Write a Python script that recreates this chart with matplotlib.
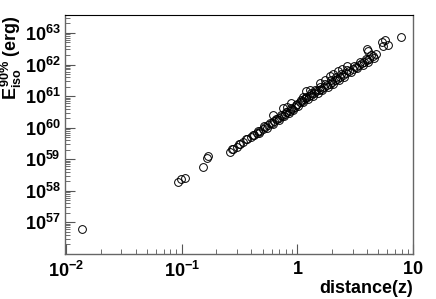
import numpy as np
import matplotlib
matplotlib.use('Agg')
import matplotlib.pyplot as plt
from matplotlib.ticker import LogLocator, FixedLocator, FuncFormatter

plt.rcParams['font.family'] = ['Liberation Sans', 'DejaVu Sans']
plt.rcParams['mathtext.fontset'] = 'custom'
plt.rcParams['mathtext.rm'] = 'Liberation Sans:bold'
plt.rcParams['mathtext.bf'] = 'Liberation Sans:bold'
plt.rcParams['mathtext.it'] = 'Liberation Sans:bold'

# redshift of each burst
redshift = [
    0.0137, 0.093, 0.0996, 0.107, 0.154, 0.164, 0.170,
    # main band, lower row
    0.26, 0.28, 0.30, 0.32, 0.34, 0.37, 0.40, 0.42, 0.45, 0.48, 0.50, 0.53,
    0.56, 0.60, 0.63, 0.67, 0.70, 0.74, 0.78, 0.82, 0.86, 0.90, 0.95, 1.00,
    1.05, 1.10, 1.15, 1.20, 1.26, 1.32, 1.40, 1.46, 1.53, 1.60, 1.70, 1.80,
    1.90, 2.00, 2.10, 2.20, 2.35, 2.50, 2.65, 2.80, 3.00, 3.20, 3.40, 3.60,
    3.80, 4.00, 4.20, 4.50, 4.80,
    # main band, upper row
    0.27, 0.31, 0.36, 0.41, 0.46, 0.52, 0.58, 0.65, 0.72, 0.80, 0.88, 0.97,
    1.08, 1.18, 1.30, 1.43, 1.57, 1.75, 1.95, 2.15, 2.40, 2.70, 3.10, 3.50,
    3.90, 4.35,
    # main band, bottom edge
    0.47, 0.55, 0.62, 0.69, 0.76, 0.84, 0.92, 1.02, 1.13, 1.24, 1.36, 1.50,
    1.65, 1.85, 2.05, 2.28, 2.55, 2.90, 3.30, 3.70, 4.10, 4.60,
    # scattered above the band
    0.62, 0.755, 0.81, 0.89, 1.12, 1.20, 1.28, 1.57, 1.73, 1.91, 2.04, 2.26,
    2.41, 2.67, 3.97, 4.08, 5.36, 5.52, 5.71, 6.11, 7.95,
]

# isotropic energy (erg)
e_iso = [
    6.0e56, 1.9e58, 2.3e58, 2.6e58, 5.8e58, 1.12e59, 1.26e59,
    1.7e59, 2.1e59, 2.5e59, 3.0e59, 3.4e59, 4.3e59, 5.1e59, 5.9e59, 6.9e59,
    8.1e59, 9.1e59, 1.05e60, 1.2e60, 1.45e60, 1.6e60, 1.9e60, 2.1e60, 2.4e60,
    2.8e60, 3.2e60, 3.5e60, 4.0e60, 4.6e60, 5.5e60,
    6.5e60, 7.1e60, 7.9e60, 8.7e60, 9.8e60, 1.1e61, 1.25e61, 1.4e61, 1.55e61,
    1.7e61, 2.0e61, 2.2e61, 2.5e61, 2.8e61, 3.2e61, 3.5e61, 4.1e61, 4.8e61,
    5.4e61, 6.2e61, 7.2e61, 8.3e61, 9.6e61, 1.1e62, 1.24e62, 1.4e62, 1.55e62,
    1.8e62, 2.1e62,
    2.1e59, 3.1e59, 4.4e59, 6.0e59, 7.9e59, 1.1e60, 1.45e60, 1.9e60, 2.5e60,
    3.2e60, 4.1e60, 5.2e60, 7.6e60, 9.6e60, 1.25e61, 1.55e61, 1.95e61, 2.5e61,
    3.2e61, 4.0e61, 5.1e61, 6.6e61, 9.2e61, 1.2e62, 1.55e62, 1.95e62,
    7.0e59, 1.0e60, 1.35e60, 1.75e60, 2.3e60, 2.9e60, 3.6e60, 4.7e60, 6.6e60,
    8.3e60, 1.0e61, 1.25e61, 1.55e61, 2.0e61, 2.5e61, 3.2e61, 4.1e61, 5.7e61,
    7.5e61, 9.6e61, 1.2e62, 1.6e62,
    2.5e60, 4.1e60, 4.6e60, 5.9e60, 9.5e60, 1.4e61, 1.55e61, 2.6e61, 3.2e61,
    4.3e61, 5.0e61, 6.3e61, 7.0e61, 9.2e61, 3.2e62, 2.6e62, 5.0e62, 4.0e62,
    6.0e62, 4.2e62, 7.2e62,
]

x_ticks = [0.01, 0.1, 1, 10]
x_tick_labels = [r'$10^{-2}$', r'$10^{-1}$', r'$1$', r'$10$']
y_ticks = [1e57, 1e58, 1e59, 1e60, 1e61, 1e62, 1e63]

fig = plt.figure(figsize=(4.36, 2.99), dpi=100)
ax = fig.add_axes([65 / 436, 1 - 254 / 299, 348 / 436, 239 / 299])

ax.plot(redshift, e_iso, linestyle='none', marker='o', markersize=5.6,
        markerfacecolor='none', markeredgecolor='black', markeredgewidth=0.7)

ax.set_xscale('log')
ax.set_yscale('log')
ax.set_xlim(0.0098, 10)
ax.set_ylim(1e56, 3.7e63)

ax.xaxis.set_major_locator(FixedLocator(x_ticks))
ax.xaxis.set_major_formatter(FuncFormatter(lambda v, p: x_tick_labels[x_ticks.index(v)] if v in x_ticks else ''))
ax.xaxis.set_minor_locator(LogLocator(base=10, subs=np.arange(2, 10), numticks=20))
ax.yaxis.set_major_locator(FixedLocator(y_ticks))
ax.yaxis.set_major_formatter(FuncFormatter(lambda v, p: r'$10^{%d}$' % round(np.log10(v))))
ax.yaxis.set_minor_locator(LogLocator(base=10, subs=np.arange(2, 10), numticks=20))
ax.xaxis.set_minor_formatter(FuncFormatter(lambda v, p: ''))
ax.yaxis.set_minor_formatter(FuncFormatter(lambda v, p: ''))

ax.tick_params(which='both', direction='in', top=False, right=False, color='#555555')
ax.tick_params(which='major', length=7, width=0.8, labelsize=13)
ax.tick_params(which='minor', length=3.5, width=0.6)
ax.tick_params(axis='x', which='major', pad=5)
ax.tick_params(axis='y', which='major', pad=3)

for side in ['left', 'bottom', 'right']:
    ax.spines[side].set_color('#666666')
    ax.spines[side].set_linewidth(1.0)
ax.spines['top'].set_color('black')
ax.spines['top'].set_linewidth(0.8)

ax.set_xlabel('distance(z)', fontsize=13, fontweight='bold', ha='right', x=1.0, labelpad=-1)
ax.set_ylabel(r'$E_{iso}^{90\%}$ (erg)', fontsize=13, fontweight='bold', ha='right', y=1.0, labelpad=1)

fig.savefig('out.png', dpi=100)
